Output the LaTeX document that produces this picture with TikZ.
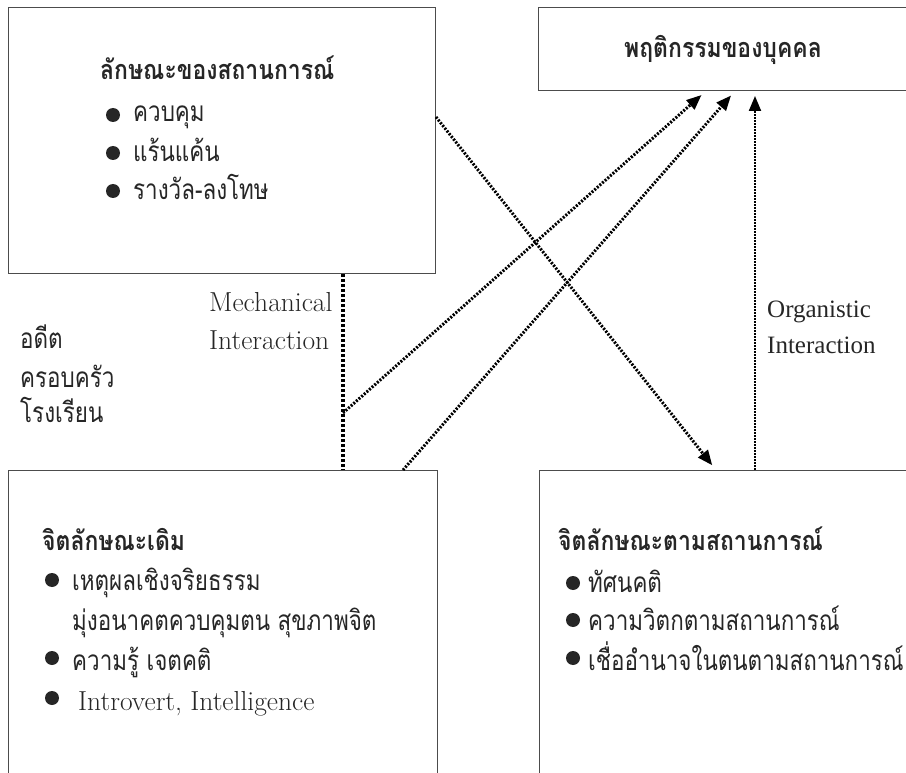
\documentclass[tikz,border=0pt]{standalone}
\usepackage{fontspec}
\newfontfamily\thai[Script=Thai, FakeStretch=0.8]{Loma}
\newfontfamily\thaib[Script=Thai, FakeStretch=0.85]{Loma}
\newfontfamily\tnr{Liberation Serif}
\usetikzlibrary{arrows.meta}
\begin{document}
\begin{tikzpicture}[x=1pt,y=-1pt,
  box/.style={draw=black!70, line width=1pt, inner sep=0pt, anchor=north west},
  ttl/.style={font=\thaib\bfseries\fontsize{27}{30}\selectfont, text=black!85, anchor=base west, inner sep=0pt},
  itm/.style={font=\thai\fontsize{28}{30}\selectfont, text=black!85, anchor=base west, inner sep=0pt},
  eng/.style={font=\fontsize{27.5}{32}\selectfont, text=black!85, anchor=base west, inner sep=0pt},
  engt/.style={font=\tnr\fontsize{25}{29}\selectfont, text=black!85, anchor=base west, inner sep=0pt},
  bul/.style={circle, fill=black!85, minimum size=14pt, inner sep=0pt},
  mech/.style={line width=4.5pt, dash pattern=on 3pt off 2pt},
  diag/.style={line width=3pt, dash pattern=on 2pt off 1.5pt, -{Triangle[length=15pt,width=12pt]}, shorten >=6pt},
  org/.style={line width=2pt, dash pattern=on 2pt off 1pt, -{Triangle[length=15pt,width=12pt]}, shorten >=5pt}
]
\useasboundingbox (0,0) rectangle (906,773);
\clip (0,0) rectangle (906,773);
% boxes
\node[box, minimum width=427pt, minimum height=266pt] (A) at (8,7) {};
\node[box, minimum width=390pt, minimum height=83pt] (B) at (538,7) {};
\node[box, minimum width=429pt, minimum height=330pt] (C) at (8,470) {};
\node[box, minimum width=390pt, minimum height=330pt] (D) at (539,470) {};
% top-left text
\node[ttl] (at) at (100,80) {ลักษณะของสถานการณ์};
\node[bul] (ab1) at (113,115) {};
\node[bul] (ab2) at (113,153) {};
\node[bul] (ab3) at (113,191) {};
\node[itm] (a1) at (133,122) {ควบคุม};
\node[itm] (a2) at (133,162) {แร้นแค้น};
\node[itm] (a3) at (133,200) {รางวัล-ลงโทษ};
% top-right text
\node[ttl, anchor=base] (bt) at (723,58) {พฤติกรรมของบุคคล};
% left labels
\node[itm] (l1) at (20,348) {อดีต};
\node[itm] (l2) at (20,387) {ครอบครัว};
\node[itm] (l3) at (20,422) {โรงเรียน};
\node[eng] (m1) at (209,312) {Mechanical};
\node[eng] (m2) at (209,349) {Interaction};
\node[engt] (o1) at (767,317) {Organistic};
\node[engt] (o2) at (767,353) {Interaction};
% bottom-left text
\node[ttl] (ct) at (42,550) {จิตลักษณะเดิม};
\node[bul] (cb1) at (52,580) {};
\node[bul] (cb2) at (52,658) {};
\node[bul] (cb3) at (52,698) {};
\node[itm] (c1) at (72,590) {เหตุผลเชิงจริยธรรม};
\node[itm] (c1b) at (72,630) {มุ่งอนาคตควบคุมตน สุขภาพจิต};
\node[itm] (c2) at (72,670) {ความรู้ เจตคติ};
\node[eng] (c3) at (78,710) {Introvert, Intelligence};
% bottom-right text
\node[ttl] (dt) at (558,550) {จิตลักษณะตามสถานการณ์};
\node[bul] (db1) at (573,583) {};
\node[bul] (db2) at (573,620) {};
\node[bul] (db3) at (573,658) {};
\node[itm] (d1) at (588,592) {ทัศนคติ};
\node[itm] (d2) at (588,630) {ความวิตกตามสถานการณ์};
\node[itm] (d3) at (588,670) {เชื่ออำนาจในตนตามสถานการณ์};
% connectors
\coordinate (mx) at (343,0);
\coordinate (j1) at (343,413);
\coordinate (t1) at (706,0);
\coordinate (s2) at (403,0);
\coordinate (t2) at (735,0);
\coordinate (t3) at (755,0);
\coordinate (s4) at (0,117);
\coordinate (t4) at (716,0);
\draw[mech] (A.south -| mx) -- (C.north -| mx);
\draw[diag] (j1) -- (B.south -| t1);
\draw[diag] (C.north -| s2) -- (B.south -| t2);
\draw[org] (D.north -| t3) -- (B.south -| t3);
\draw[diag] (A.east |- s4) -- (D.north -| t4);
\end{tikzpicture}
\end{document}
